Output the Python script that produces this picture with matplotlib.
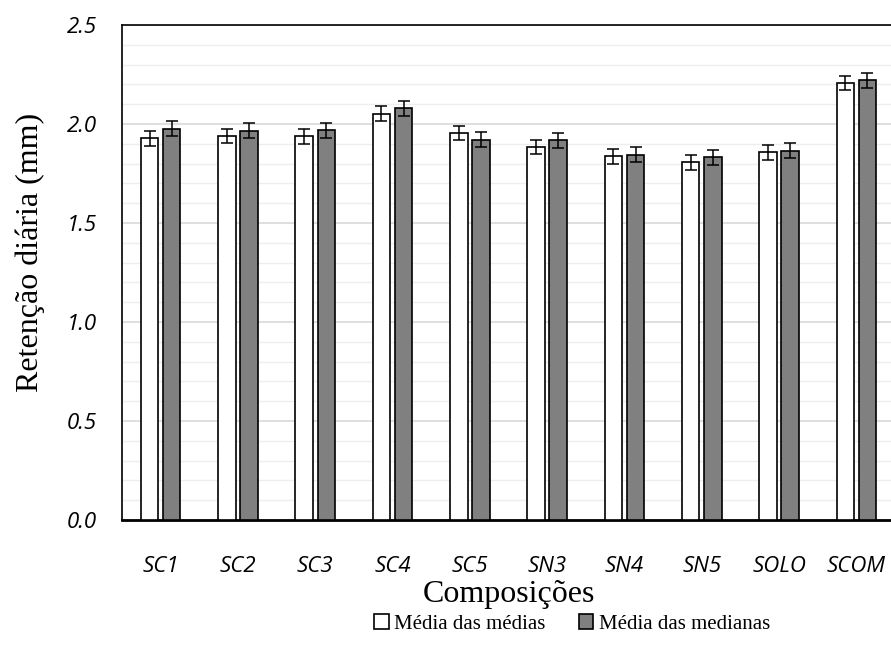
import matplotlib.pyplot as plt
import numpy as np

categories = ["SC1", "SC2", "SC3", "SC4", "SC5", "SN3", "SN4", "SN5", "SOLO", "SCOM"]
media_medias = [1.928, 1.939, 1.938, 2.052, 1.953, 1.884, 1.837, 1.806, 1.857, 2.207]
media_medianas = [1.976, 1.965, 1.968, 2.079, 1.921, 1.918, 1.845, 1.833, 1.864, 2.222]
err_medias = [0.038, 0.037, 0.037, 0.037, 0.036, 0.037, 0.037, 0.037, 0.037, 0.037]
err_medianas = [0.039, 0.038, 0.038, 0.038, 0.038, 0.038, 0.038, 0.038, 0.038, 0.038]

fig = plt.figure(figsize=(8.91, 6.62), dpi=100)
ax = fig.add_axes([122 / 891, 142 / 662, 773 / 891, 495 / 662])

x = np.arange(len(categories))
w = 0.226
off = 0.143
ekw = dict(ecolor="black", elinewidth=1.1, capsize=4, capthick=1.1)
ax.bar(x - off, media_medias, w, yerr=err_medias, color="white",
       edgecolor="black", linewidth=1.2, error_kw=ekw, label="Média das médias", zorder=3)
ax.bar(x + off, media_medianas, w, yerr=err_medianas, color="#808080",
       edgecolor="black", linewidth=1.2, error_kw=ekw, label="Média das medianas", zorder=3)

ax.set_xlim(-0.5, len(categories) - 0.5)
ax.set_ylim(0, 2.5)
ax.set_yticks(np.arange(0, 2.51, 0.5))
ax.set_yticks(np.arange(0, 2.51, 0.1), minor=True)
ax.grid(axis="y", which="major", color="#d9d9d9", linewidth=1.2, zorder=0)
ax.grid(axis="y", which="minor", color="#eeeeee", linewidth=1.0, zorder=0)
ax.set_axisbelow(True)
ax.set_xticks(x)
ax.set_xticklabels(categories, fontfamily="Open Sans", fontstyle="italic", fontsize=16)
ax.set_yticklabels([f"{v:.1f}" for v in np.arange(0, 2.51, 0.5)],
                   fontfamily="Open Sans", fontstyle="italic", fontsize=16)
ax.tick_params(axis="both", which="both", length=0)
ax.tick_params(axis="x", pad=26)
ax.tick_params(axis="y", pad=18)

for s in ["left", "top"]:
    ax.spines[s].set_color("black")
    ax.spines[s].set_linewidth(1.2)
ax.spines["bottom"].set_linewidth(2)
ax.spines["right"].set_visible(False)

ax.set_ylabel("Retenção diária (mm)", fontfamily="Liberation Serif", fontsize=23)
ax.yaxis.set_label_coords(-0.1, 0.54)
ax.set_xlabel("Composições", fontfamily="Liberation Serif", fontsize=23, labelpad=2)

fig.legend(loc="center", bbox_to_anchor=(572 / 891, 1 - 624 / 662), ncol=2, frameon=False,
           prop={"family": "Liberation Serif", "size": 15}, handlelength=0.7, handleheight=0.7,
           handletextpad=0.25, columnspacing=1.6)

fig.savefig("out.png", dpi=100)
